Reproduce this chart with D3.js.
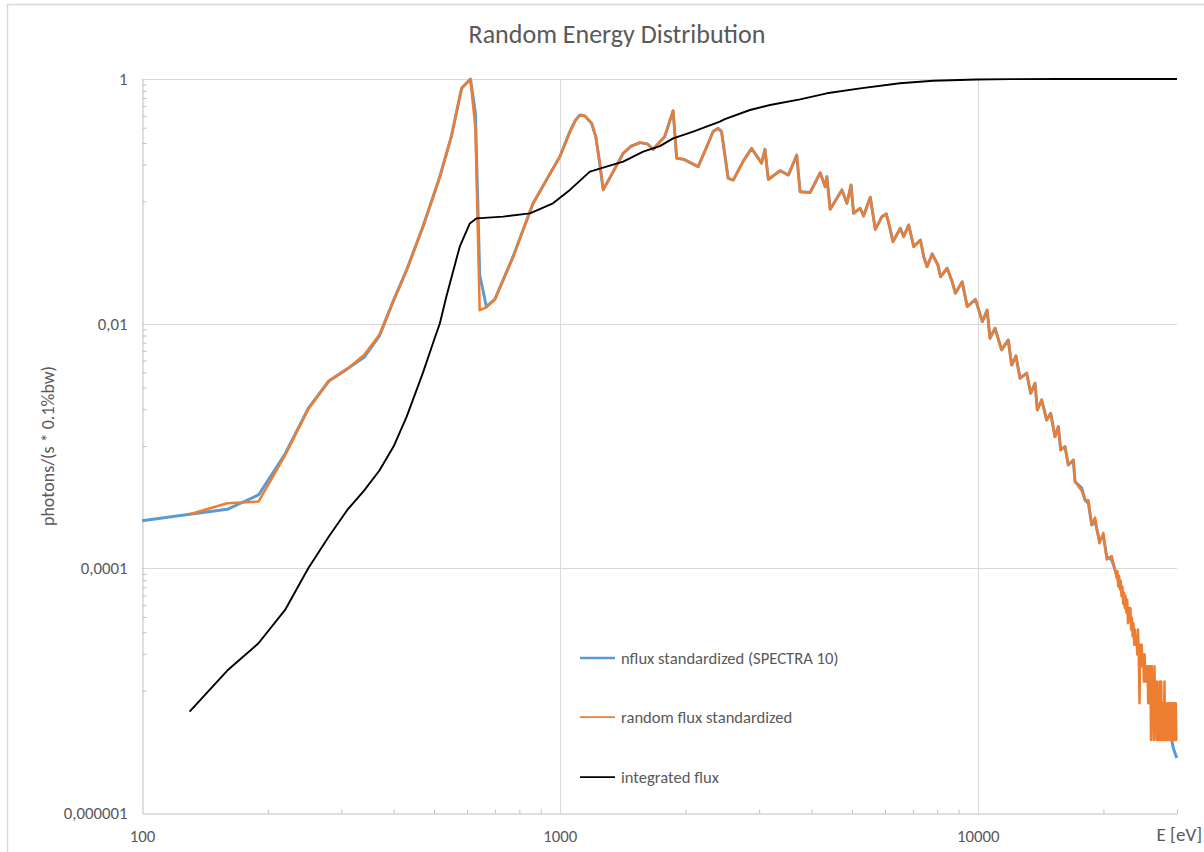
<!DOCTYPE html>
<html><head><meta charset="utf-8">
<script src="https://cdn.jsdelivr.net/npm/d3@7"></script>
<style>html,body{margin:0;padding:0;background:#fff;} svg{display:block;}</style>
</head><body><svg id="c" width="1204" height="852"></svg>
<script>
// ---------- data ----------
const energy = [100,130,160,190,220,250,280,310,340,370,400,430,470,516,550,582,611,628,643,667,699,773,863,
  1000,1057,1090,1117,1148,1191,1219,1245,1270,1342,1418,1480,1555,1620,1673,1783,1867,1904,1975,2143,2250,2328,2393,2438,2529,2601,2750,2877,
  3040,3097,3155,3365,3524,3690,3758,3972,4198,4315,4356,4437,4733,4866,4977,5047,5236,5333,5534,5688,5902,
  6044,6155,6270,6531,6652,6839,7031,7295,7430,7568,7784,8032,8150,8453,8692,8847,9183,9441,9883,10260,10540,
  10703,11003,11413,11838,12062,12352,12628,13103,13396,13717,13892,14233,14629,14956,15314,15599,15803,16182,
  16480,16943,17103,17745,18072,18407,18754,19099,19557,19995,20370,20942,21528];
const nflux = [2.45e-4,2.77e-4,3.04e-4,3.98e-4,8.6e-4,2.03e-3,3.40e-3,4.27e-3,5.31e-3,7.94e-3,1.55e-2,2.75e-2,6.17e-2,0.158,0.339,0.839,1.0,0.525,0.0251,0.0138,0.0158,0.0353,0.0964,
  0.232,0.371,0.46,0.508,0.499,0.435,0.339,0.209,0.124,0.175,0.247,0.282,0.302,0.295,0.266,0.339,0.551,0.225,0.221,0.192,0.282,0.372,0.395,0.372,0.154,0.149,0.214,0.271,
  0.205,0.266,0.151,0.178,0.164,0.239,0.120,0.118,0.171,0.132,0.159,0.0861,0.124,0.0964,0.136,0.0798,0.0877,0.0759,0.108,0.059,0.075,
  0.0789,0.0621,0.0468,0.0603,0.0514,0.0641,0.0426,0.0483,0.0353,0.0292,0.0372,0.0302,0.0242,0.0284,0.022,0.0177,0.022,0.0138,0.0158,0.0104,0.0129,
  7.59e-3,9.18e-3,6.10e-3,7.36e-3,4.59e-3,5.45e-3,3.58e-3,3.94e-3,2.70e-3,3.26e-3,1.97e-3,2.38e-3,1.63e-3,1.85e-3,1.19e-3,1.44e-3,9.29e-4,9.89e-4,
  7.0e-4,7.69e-4,5.12e-4,4.52e-4,3.62e-4,3.40e-4,2.26e-4,2.41e-4,1.71e-4,1.82e-4,1.25e-4,1.17e-4,8.8e-5];
const randomFlux = [null,2.77e-4,3.40e-4,3.51e-4,8.4e-4,2.0e-3,3.40e-3,4.27e-3,5.55e-3,8.13e-3,1.55e-2,2.75e-2,6.17e-2,0.158,0.339,0.839,1.0,0.398,0.0129,0.0136,0.0158,0.0353,0.0964,
  0.232,0.371,0.46,0.508,0.499,0.435,0.339,0.209,0.124,0.175,0.247,0.282,0.302,0.295,0.266,0.339,0.551,0.225,0.221,0.192,0.282,0.372,0.395,0.372,0.154,0.149,0.214,0.271,
  0.205,0.266,0.151,0.178,0.164,0.239,0.120,0.118,0.171,0.132,0.159,0.0861,0.124,0.0964,0.136,0.0798,0.0877,0.0759,0.108,0.059,0.075,
  0.0789,0.0621,0.0468,0.0603,0.0514,0.0641,0.0426,0.0483,0.0353,0.0292,0.0372,0.0302,0.0242,0.0284,0.022,0.0177,0.022,0.0138,0.0158,0.0104,0.0129,
  7.59e-3,9.18e-3,6.10e-3,7.36e-3,4.59e-3,5.45e-3,3.58e-3,3.94e-3,2.70e-3,3.26e-3,1.97e-3,2.38e-3,1.63e-3,1.85e-3,1.19e-3,1.44e-3,9.29e-4,9.89e-4,
  7.0e-4,7.69e-4,5.12e-4,4.3e-4,3.62e-4,3.6e-4,2.26e-4,2.6e-4,1.6e-4,1.95e-4,1.18e-4,1.26e-4,8.3e-5];
const nfluxTailEnergy = [22740,24470,25860,27580,29140,29400,29960];
const nfluxTail = [4.86e-5,2.02e-5,1.08e-5,6.14e-6,3.95e-6,3.39e-6,2.81e-6];
const randomTailEnergy = [21600,21700,21800,21900,22000,22100,22200,22300,22400,22500,
  22600,22700,22800,22900,23000,23100,23200,23300,23400,23500,
  23600,23700,23800,23900,24000,24100,24200,24300,24400,24500,
  24600,24700,24800,24900,25000,25100,25200,25300,25400,25500,
  25600,25700,25800,25900,26000,26100,26200,26300,26400,26500,
  26600,26700,26800,26900,27000,27100,27200,27300,27400,27500,
  27600,27700,27800,27900,28000,28100,28200,28300,28400,28500,
  28600,28700,28800,28900,29000,29100,29200,29300,29400,29500,
  29600,29700,29800,29900,30000];
const randomTail = [9.48e-5,7.11e-5,8.69e-5,6.72e-5,7.9e-5,5.93e-5,7.11e-5,5.14e-5,6.32e-5,4.74e-5,
  5.93e-5,4.35e-5,5.53e-5,3.56e-5,4.74e-5,3.95e-5,4.74e-5,3.16e-5,3.95e-5,2.77e-5,
  3.56e-5,2.37e-5,3.16e-5,2.37e-5,2.77e-5,1.98e-5,3.16e-5,1.98e-5,7.9e-6,2.37e-5,
  1.58e-5,2.37e-5,1.58e-5,1.98e-5,1.19e-5,1.98e-5,1.19e-5,1.58e-5,1.19e-5,1.58e-5,
  7.9e-6,1.58e-5,7.9e-6,1.58e-5,3.95e-6,1.58e-5,7.9e-6,1.19e-5,3.95e-6,1.58e-5,
  7.9e-6,7.9e-6,3.95e-6,1.19e-5,3.95e-6,7.9e-6,3.95e-6,1.19e-5,3.95e-6,1.19e-5,
  3.95e-6,7.9e-6,7.9e-6,3.95e-6,1.19e-5,3.95e-6,7.9e-6,3.95e-6,7.9e-6,3.95e-6,
  3.95e-6,7.9e-6,3.95e-6,7.9e-6,3.95e-6,7.9e-6,3.95e-6,3.95e-6,7.9e-6,3.95e-6,
  7.9e-6,3.95e-6,7.9e-6,3.95e-6,3.95e-6];
const integratedEnergy = [130,160,190,220,250,280,310,340,370,400,430,470,500,516,535,576,609,632,732,848,963,
  1057,1180,1293,1418,1583,1736,1867,2085,2415,2483,2851,3184,3758,4355,5236,6515,7829,9945,12000,15700,30000];
const integratedFlux = [6.75e-6,1.46e-5,2.44e-5,4.57e-5,1.0e-4,1.82e-4,3.0e-4,4.32e-4,6.3e-4,9.9e-4,1.74e-3,3.94e-3,7.36e-3,1.0e-2,1.66e-2,4.26e-2,6.6e-2,7.26e-2,7.5e-2,7.98e-2,9.64e-2,
  0.124,0.175,0.192,0.211,0.255,0.283,0.327,0.372,0.448,0.469,0.558,0.613,0.682,0.764,0.839,0.923,0.968,0.99,0.997,1.0,1.0];

const yTickValues = [1, 0.01, 0.0001, 0.000001];
const yTickLabels = ["1", "0,01", "0,0001", "0,000001"];
const xTickValues = [100, 1000, 10000];
const xTickLabels = ["100", "1000", "10000"];
const seriesNames = ["nflux standardized (SPECTRA 10)", "random flux standardized", "integrated flux"];
const seriesColors = ["#5B9BD5", "#ED7D31", "#000000"];
const titleText = "Random Energy Distribution";
const yTitle = "photons/(s * 0.1%bw)";
const xTitle = "E [eV]";

// ---------- chart ----------
const FONT = "Carlito, Calibri, Lato, 'Open Sans', sans-serif";
const TXT = "#595959";
const svg = d3.select("#c");
const L = 142, R = 1177, T = 79, B = 813;
const x = d3.scaleLog().domain([100, 30000]).range([L, R]);
const y = d3.scaleLog().domain([1e-6, 1]).range([B, T]);

// outer chart border
svg.append("path").attr("d", "M7.5,860V4.5H1210").attr("fill","none").attr("stroke","#d9d9d9").attr("stroke-width",1.5);

// title
svg.append("text").attr("x", 617).attr("y", 43).attr("text-anchor","middle")
  .attr("font-family", FONT).attr("font-size", 26).attr("fill", TXT).text(titleText);

// gridlines
const g = svg.append("g");
g.selectAll("line.hg").data(yTickValues.slice(0,3)).join("line")
  .attr("x1", L).attr("x2", R).attr("y1", d => Math.round(y(d))+0.5).attr("y2", d => Math.round(y(d))+0.5)
  .attr("stroke", "#d9d9d9").attr("stroke-width", 1);
g.selectAll("line.vg").data(xTickValues.slice(1)).join("line")
  .attr("y1", T).attr("y2", B).attr("x1", d => Math.round(x(d))+0.5).attr("x2", d => Math.round(x(d))+0.5)
  .attr("stroke", "#d9d9d9").attr("stroke-width", 1);

// minor ticks (inside)
const yMinor = [];
yTickValues.slice(0,3).forEach(m => { for (let k = 1; k <= 9; k++) yMinor.push(m * k / 10); });
const xMinor = x.ticks().filter(t => Math.abs(Math.log10(t) - Math.round(Math.log10(t))) > 1e-9);
const yMinorAxis = svg.append("g").attr("transform", `translate(${L+0.5},0)`)
  .call(d3.axisRight(y).tickValues(yMinor).tickSize(4).tickFormat(""));
yMinorAxis.select(".domain").remove();
yMinorAxis.selectAll("line").attr("stroke", "#bfbfbf");
const xMinorAxis = svg.append("g").attr("transform", `translate(0,${B+0.5})`)
  .call(d3.axisTop(x).tickValues(xMinor).tickSize(4).tickFormat(""));
xMinorAxis.select(".domain").remove();
xMinorAxis.selectAll("line").attr("stroke", "#bfbfbf");

// axes
const yAxis = svg.append("g").attr("transform", `translate(${L+0.5},0)`)
  .call(d3.axisLeft(y).tickValues(yTickValues).tickSize(0).tickPadding(15)
    .tickFormat((d, i) => yTickLabels[i]));
yAxis.select(".domain").attr("stroke", "#bfbfbf").attr("stroke-width", 1);
yAxis.selectAll("text").attr("font-family", FONT).attr("font-size", 16.8).attr("fill", TXT);
const xAxis = svg.append("g").attr("transform", `translate(0,${B+0.5})`)
  .call(d3.axisBottom(x).tickValues(xTickValues).tickSize(0).tickPadding(17)
    .tickFormat((d, i) => xTickLabels[i]));
xAxis.select(".domain").attr("stroke", "#bfbfbf").attr("stroke-width", 1);
xAxis.selectAll("text").attr("font-family", FONT).attr("font-size", 16.8).attr("fill", TXT);

// axis titles
svg.append("text").attr("transform", "translate(54,446) rotate(-90)").attr("text-anchor","middle")
  .attr("font-family", FONT).attr("font-size", 18).attr("fill", TXT).text(yTitle);
svg.append("text").attr("x", 1202).attr("y", 841).attr("text-anchor","end")
  .attr("font-family", FONT).attr("font-size", 19).attr("fill", TXT).text(xTitle);

// series
const line = d3.line().defined(d => d.v != null).x(d => x(d.e)).y(d => y(d.v));
const blueData = energy.map((e, i) => ({e, v: nflux[i]}))
  .concat(nfluxTailEnergy.map((e, i) => ({e, v: nfluxTail[i]})));
const orangeData = energy.map((e, i) => ({e, v: randomFlux[i]}))
  .concat(randomTailEnergy.map((e, i) => ({e, v: randomTail[i]})));
const blackData = integratedEnergy.map((e, i) => ({e, v: integratedFlux[i]}));

svg.append("path").datum(blueData).attr("d", line).attr("fill","none")
  .attr("stroke", seriesColors[0]).attr("stroke-width", 3).attr("stroke-linejoin","round");
svg.append("path").datum(orangeData).attr("d", line).attr("fill","none")
  .attr("stroke", seriesColors[1]).attr("stroke-width", 2.5).attr("stroke-linejoin","round");
svg.append("path").datum(blackData).attr("d", line).attr("fill","none")
  .attr("stroke", seriesColors[2]).attr("stroke-width", 1.9).attr("stroke-linejoin","round");

// legend
const legY = [658, 717, 777];
const leg = svg.append("g");
seriesNames.forEach((name, i) => {
  leg.append("line").attr("x1", 580).attr("x2", 615).attr("y1", legY[i]).attr("y2", legY[i])
    .attr("stroke", seriesColors[i]).attr("stroke-width", i === 0 ? 2.5 : 1.75);
  leg.append("text").attr("x", 621).attr("y", legY[i]).attr("dy", "0.35em")
    .attr("font-family", FONT).attr("font-size", 16.6).attr("fill", TXT).text(name);
});
</script></body></html>
